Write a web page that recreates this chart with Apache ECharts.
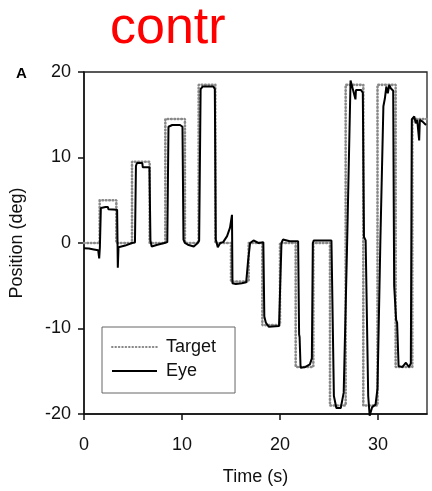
<!DOCTYPE html>
<html><head><meta charset="utf-8">
<script src="https://cdn.jsdelivr.net/npm/echarts@6/dist/echarts.min.js"></script>
<style>html,body{margin:0;padding:0;background:#fff}#c{width:432px;height:491px}</style>
</head><body><div id="c"></div>
<script>
// ---- data ----
const titleText = 'contr';
const panelLabel = 'A';
const xTicks = [0, 10, 20, 30];
const yTicks = [-20, -10, 0, 10, 20];
const seriesNames = ['Target', 'Eye'];
// target: level holds from targetT[i] until targetT[i+1]
const targetT = [0, 1.6, 3.3, 4.9, 6.7, 8.3, 10.3, 11.7, 13.4, 15.0, 16.8, 18.2, 20.0, 21.6, 23.4, 25.1, 26.7, 28.5, 29.95, 31.8, 33.5, 35];
const targetV = [0, 5, 0, 9.5, 0, 14.5, 0, 18.5, 0, -4.5, 0, -9.6, 0, -14.5, 0, -19, 18.5, -19, 18.5, -14.5, 14.5, 14.5];
// eye trace samples
const eyeT = [0, 0.5, 1.0, 1.45, 1.55, 1.62, 1.72, 2.2, 2.45, 2.48, 3.38, 3.45, 3.52, 3.6, 4.2, 4.9, 5.2, 5.3, 5.4, 5.95, 6.0, 6.68, 6.78, 6.9, 7.5, 8.2, 8.5, 8.62, 9.0, 9.8, 10.05, 10.15, 10.3, 10.6, 11.2, 11.6, 11.75, 11.9, 12.1, 13.2, 13.35, 13.45, 13.65, 13.9, 14.2, 14.6, 14.9, 15.1, 15.15, 15.5, 16.1, 16.55, 16.75, 16.95, 17.3, 17.8, 18.3, 18.4, 18.55, 18.85, 19.9, 20.0, 20.15, 20.3, 21.0, 21.85, 21.95, 22.0, 22.1, 22.6, 23.05, 23.25, 23.35, 23.45, 24.5, 25.25, 25.5, 25.75, 26.2, 26.5, 26.85, 27.2, 27.35, 27.7, 27.75, 28.25, 28.45, 28.57, 28.74, 29.0, 29.15, 29.4, 29.75, 29.95, 30.25, 30.55, 30.7, 30.85, 31.0, 31.15, 31.3, 31.55, 31.65, 31.75, 31.85, 31.95, 32.1, 32.5, 32.85, 33.15, 33.35, 33.45, 33.7, 33.85, 34.0, 34.2, 34.27, 34.55, 34.9];
const eyeV = [-0.6, -0.65, -0.75, -0.85, -1.8, -0.5, 4.1, 4.2, 4.2, 3.95, 3.9, -2.9, -0.5, -0.5, -0.3, 0.0, 0.05, 9.0, 9.35, 9.35, 8.85, 8.85, 0.3, -0.4, -0.2, 0.0, 0.1, 13.6, 13.8, 13.8, 13.6, 0.4, 0.0, -0.2, -0.4, 0.0, 0.3, 18.0, 18.3, 18.3, 18.0, 0.4, -0.5, 0.0, 0.1, 0.8, 1.8, 3.3, -4.7, -4.8, -4.7, -4.6, -2.0, 0.0, 0.3, 0.0, 0.1, -8.6, -9.3, -9.8, -9.7, -9.5, 0.0, 0.4, 0.2, 0.2, -10.7, -11.0, -14.6, -14.5, -14.2, -13.5, 0.0, 0.3, 0.3, 0.3, -17.9, -19.3, -19.3, -17.5, 0.0, 19.0, 18.9, 16.8, 17.9, 17.9, 17.6, 0.7, 0.3, -17.9, -20.2, -19.2, -18.9, -17.0, 0.7, 16.0, 16.9, 18.3, 17.5, 18.5, 18.1, 17.8, -5.0, -5.2, -9.0, -9.3, -14.4, -14.5, -14.0, -14.5, -14.1, 14.45, 14.8, 14.0, 14.4, 12.0, 14.4, 14.2, 13.8];

const FONT = 'Liberation Sans, Arial, sans-serif';
const chart = echarts.init(document.getElementById('c'), null, {renderer: 'canvas'});
chart.setOption({
  animation: false,
  backgroundColor: '#fff',
  graphic: [
    {type: 'text', left: 110, top: 3, style: {text: titleText, fill: '#ff0000', font: '52px ' + FONT}},
    {type: 'text', left: 16, top: 66, style: {text: panelLabel, fill: '#000', font: 'bold 15px ' + FONT}}
  ],
  grid: {left: 84, top: 72, width: 343, height: 342, show: true, borderColor: '#222', borderWidth: 1.3, backgroundColor: 'transparent'},
  legend: {
    orient: 'vertical', left: 102, top: 327,
    padding: [11, 19, 13, 9], itemGap: 6, itemWidth: 45, itemHeight: 14,
    borderColor: '#666', borderWidth: 1,
    itemStyle: {color: 'transparent', borderColor: 'transparent', borderWidth: 0, opacity: 0},
    textStyle: {fontSize: 18, color: '#111', fontFamily: FONT, padding: [0, 0, 0, 4]},
    data: seriesNames
  },
  xAxis: {
    type: 'value', min: 0, max: 35, interval: 10,
    name: 'Time (s)', nameLocation: 'middle', nameGap: 54,
    nameTextStyle: {fontSize: 18, color: '#111', fontFamily: FONT},
    axisLine: {onZero: false, lineStyle: {color: '#111', width: 1.5}},
    axisTick: {show: true, inside: false, length: 6, customValues: xTicks, lineStyle: {color: '#111', width: 1.5}},
    axisLabel: {customValues: xTicks, margin: 22, fontSize: 18, color: '#111', fontFamily: FONT},
    splitLine: {show: false}
  },
  yAxis: {
    type: 'value', min: -20, max: 20, interval: 10,
    name: 'Position (deg)', nameLocation: 'middle', nameGap: 58,
    nameTextStyle: {fontSize: 18, color: '#111', fontFamily: FONT},
    axisLine: {onZero: false, lineStyle: {color: '#111', width: 1.5}},
    axisTick: {show: true, inside: false, length: 6, customValues: yTicks, lineStyle: {color: '#111', width: 1.5}},
    axisLabel: {customValues: yTicks, margin: 13, fontSize: 18, color: '#111', fontFamily: FONT},
    splitLine: {show: false}
  },
  series: [
    {
      name: seriesNames[0], type: 'line', step: 'end', symbol: 'none', silent: true,
      data: targetT.map((t, i) => [t, targetV[i]]),
      lineStyle: {color: '#888888', width: 2.6, type: [0.6, 2.8], cap: 'round'},
      itemStyle: {color: '#888888'}
    },
    {
      name: seriesNames[1], type: 'line', symbol: 'none', silent: true, clip: false,
      data: eyeT.map((t, i) => [t, eyeV[i]]),
      lineStyle: {color: '#000', width: 2},
      itemStyle: {color: '#000'}
    }
  ]
});
</script>
</body></html>
